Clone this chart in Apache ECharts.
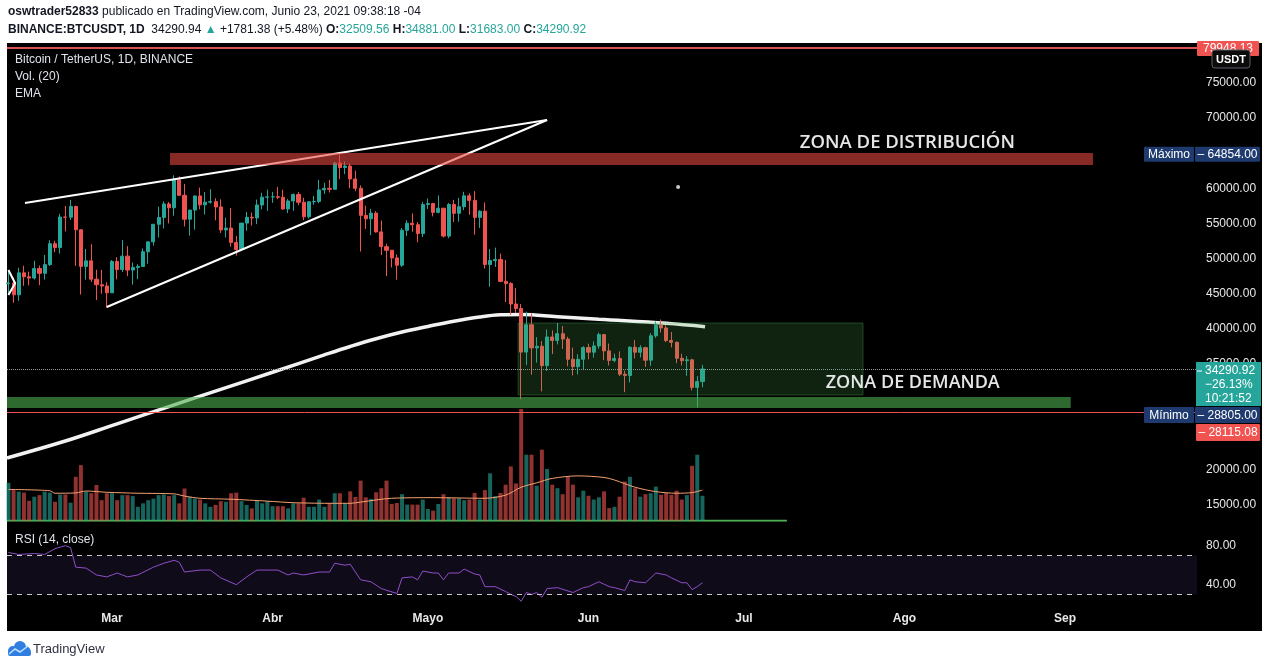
<!DOCTYPE html>
<html><head><meta charset="utf-8">
<script src="https://cdn.jsdelivr.net/npm/echarts@6/dist/echarts.min.js"></script>
<style>html,body{margin:0;padding:0;background:#fff}#c{width:1273px;height:668px}</style>
</head><body><div id="c"></div>
<script>
// ---------- DATA (day numbers = day of year 2021, Jan 1 = 0) ----------
const startDay = 39; // Feb 9
const opens = [46420,46530,44850,47970,47410,47230,48590,47910,49140,52120,51570,55910,55890,57410,54100,48890,49680,47070,46280,46100,
45135,49590,48440,50350,48370,48750,48870,50970,52380,54880,55850,57770,57220,61190,59000,55600,56900,58910,57650,58030,58100,57350,54080,54340,52300,51300,55050,55880,55780,57630,58740,
58780,58800,58730,57060,58200,59120,58020,55950,58080,58130,59770,60000,59860,63580,62960,63160,61330,60000,56150,55660,56470,53800,51700,51190,50100,49060,54030,55030,54820,53560,
57700,57830,56580,57170,53200,57690,56440,57380,58930,58280,55860,56750,49150,49720,49880,46760,46450,43540,42900,36700,40590,37300,37530,34770,38850,38350,39320,38560,35680,34630,35680,
37340,36690,37570,39190,36870,35520,35800,33560,33380,37390,36680,37330,35550,39020,40520,40140,38350,38090,35820,35480,35600,31680,32510];
const highs = [48200,47310,48678,48985,48150,49707,49010,50526,52618,52530,56368,57494,58352,57534,54183,51374,52041,48424,48394,46640,
49790,50200,52640,51773,49448,49200,51450,52402,54895,57387,58150,58058,61844,61682,60633,56939,58982,60100,59469,59880,58589,58430,55830,57200,53237,55073,56640,56559,58400,59368,59800,
59490,60200,59791,58493,59272,59475,58650,58153,58894,61218,60790,61200,63777,64854,63800,63520,62500,60420,57526,57076,56757,55410,52130,51200,50591,54356,55460,56428,55200,58075,
58550,57935,58981,57200,57911,58360,58650,59500,59300,59592,56888,58000,51367,51560,50700,49800,46643,45800,43546,42451,42200,38829,38270,39920,39791,40841,40412,38877,37338,36400,37534,
37894,38225,39476,39289,37917,36480,36790,34069,37534,38400,37680,37448,39380,41064,41330,40528,39559,38202,36457,36137,35750,33298,34881];
const lows = [45000,43727,43994,46125,46202,47015,46222,47015,48948,50901,50710,53863,55477,48967,44892,47003,46674,44106,45000,43000,
45115,47047,48100,47500,46300,47070,48870,49274,51845,53005,54272,55013,56079,58966,54568,53271,54120,57023,56270,57820,55450,53650,53000,51700,50427,51280,53966,54691,54900,57000,56769,
57935,58460,56950,56478,56800,57600,55473,55700,57654,57870,59200,59400,59850,61301,62020,60000,59580,51000,54221,53329,53696,50500,47500,48750,47000,48817,53222,53813,52330,53070,
57050,56000,56435,53000,52900,55200,55241,56900,56235,53400,54370,48600,46000,48805,46650,43825,42001,42250,30000,34850,33488,35200,31111,34030,36420,37800,37134,34684,33379,33520,34153,
35666,35920,37170,35555,34800,35258,33300,31000,32396,35800,35938,34600,34757,38730,39506,38116,37365,35129,34803,33336,31251,28805,31683];
const closes = [46530,44850,47970,47410,47230,48590,47910,49140,52120,51570,55910,55890,57410,54100,48890,49680,47070,46280,46100,45135,
49590,48440,50350,48370,48750,48870,50970,52380,54880,55850,57770,57220,61190,59000,55600,56900,58910,57650,58030,58100,57350,54080,54340,52300,51300,55050,55880,55780,57630,58740,58780,
58800,58730,57060,58200,59120,58020,55950,58080,58130,59770,60000,59860,63580,62960,63160,61330,60000,56150,55660,56470,53800,51700,51190,50100,49060,54030,55030,54820,53560,57700,
57830,56580,57170,53200,57690,56440,57380,58930,58280,55860,56750,49150,49720,49880,46760,46450,43540,42900,36700,40590,37300,37530,34770,38850,38350,39320,38560,35680,34630,35680,37340,
36690,37570,39190,36870,35520,35800,33560,33380,37390,36680,37330,35550,39020,40520,40140,38350,38090,35820,35480,35600,31680,32510,34290.92];
// volume, thousands of BTC
const volumes = [120,97,92,89,63,76,81,92,89,60,83,83,57,139,176,92,87,113,65,87,
87,65,81,81,78,44,55,65,70,81,83,78,81,55,102,76,70,67,55,44,50,62,60,87,89,62,50,39,65,55,62,
46,46,46,39,55,55,73,44,44,67,44,55,87,87,55,93,75,127,74,69,90,103,127,53,56,84,51,51,51,67,
37,32,53,84,74,71,71,65,67,88,67,97,150,78,88,114,172,118,354,209,209,111,225,164,114,103,84,139,114,74,95,
79,67,74,93,40,44,76,124,139,103,76,84,87,108,82,88,82,95,67,81,174,209,79];
const volMaDays = [39,47,48,52,54,58,64,71,73,76,82,89,94,102,105,107,113,121,131,135,138,141,144,149,154,156,160,164,168,171,173];
const volMaValues = [99,95,87,88,94,90,87,85,78,71,68,62,57,55,55,59,71,73,71,81,106,120,134,142,137,129,106,92,87,89,97];
const emaDays = [38.73,50,60,70,80,90,100,105,110,115,120,125,130,134,138,145,153,166,173.5];
const emaValues = [21640,24050,26500,28950,31400,33830,36300,37500,38600,39550,40350,41100,41700,42000,42050,41740,41370,40800,40310];
const rsiDays = [39,41,44,46,48,50,51,52,54,56,58,60,61,62,64,67,69,71,72,73,76,78,80,83,85,87,91,93,94,96,98,99,101,102,104,105,107,109,111,114,115,117,118,119,121,122,123,124,126,127,129,130,131,133,135,136,137,138,139,140,141,142,143,145,148,150,151,153,155,156,158,159,160,162,164,166,167,169,170,171,172,173];
const rsiValues = [73,71,72,71,77,80,78,58,57,50,48,52,50,48,50,58,62,65,63,53,55,55,47,40,48,55,55,50,52,50,52,53,53,62,60,61,45,43,36,31,47,48,45,54,52,52,45,52,52,56,51,50,38,38,33,30,28,23,32,30,32,27,36,37,32,37,38,43,38,37,34,45,43,42,52,50,47,42,42,35,38,42];
const monthDays = [59,90,120,151,181,212,243];
const monthNames = ['Mar','Abr','Mayo','Jun','Jul','Ago','Sep'];
const priceHiddenLabels = [10000,25000,30000,65000,80000];
const rsiLabelValues = [80,40];
// drawings (data coordinates)
const wedgeUpperDays = [42.2,143], wedgeUpperPrices = [57909,69716];
const wedgeLowerDays = [58,143], wedgeLowerPrices = [43115,69716];
const chevronDays = [39,40.3,39], chevronPrices = [48378,46486,44822];
const dotDays = [168.3], dotPrices = [60185];
const distZoneDays = [70.2,248.4], distZonePrices = [63314,65021];
const demandZoneDays = [137.4,204], demandZonePrices = [30597,40840];
const bandDays = [38.73,244.1], bandPrices = [28748,30313];
const volBaseDays = [38.73,189.3];
const topLinePrice = 79948.13, lowLinePrice = 28115.08;
const lastPrice = 34290.92, maxPrice = 64854, minPrice = 28805;
const distLabelDay = 191.8, distLabelPrice = 66450;
const demandLabelDay = 196.8, demandLabelPrice = 32300;

// ---------- CHART ----------
const FONT = "'Liberation Sans', Arial, sans-serif";
const UP = '#26a69a', DOWN = '#ef5350';
const xMin = 38.73, xMax = 268.48;
const days = opens.map((_, i) => startDay + i);
const chart = echarts.init(document.getElementById('c'), null, {width:1273, height:668});

const xAxes = [0,1,2].map(i => ({
  type:'value', gridIndex:i, min:xMin, max:xMax, show: i === 2,
  axisLine:{show:false}, axisTick:{show:false}, splitLine:{show:false},
  axisLabel: i === 2 ? {customValues: monthDays, formatter: v => { const k = monthDays.indexOf(v); return k >= 0 ? monthNames[k] : ''; },
    color:'#e8e8e8', fontWeight:'bold', fontSize:12, margin:8, fontFamily:FONT} : {show:false}
}));

const option = {
  animation:false,
  backgroundColor:'#ffffff',
  textStyle:{fontFamily:FONT},
  grid:[
    {left:7, top:47.7, width:1190, height:492.1},
    {left:7, top:299.7, width:1190, height:221},
    {left:7, top:526.2, width:1190, height:78}
  ],
  xAxis:xAxes,
  yAxis:[
    {type:'value', gridIndex:0, position:'right', min:10000, max:80000, interval:5000,
     axisLine:{show:false}, axisTick:{show:false}, splitLine:{show:false},
     axisLabel:{color:'#e8e8e8', fontSize:12, margin:9, fontFamily:FONT,
       formatter: v => priceHiddenLabels.includes(v) ? '' : v.toFixed(2)}},
    {type:'value', gridIndex:1, min:0, max:700, show:false, splitLine:{show:false}},
    {type:'value', gridIndex:2, position:'right', min:20, max:100, interval:20,
     axisLine:{show:false}, axisTick:{show:false}, splitLine:{show:false},
     axisLabel:{color:'#e8e8e8', fontSize:12, margin:9, fontFamily:FONT,
       formatter: v => rsiLabelValues.includes(v) ? v.toFixed(2) : ''}}
  ],
  series:[
    {type:'line', xAxisIndex:1, yAxisIndex:1, z:1, silent:true, showSymbol:false,
     data: volBaseDays.map(d => [d, 0]), lineStyle:{color:'#4caf50', width:2}},
    {type:'bar', xAxisIndex:1, yAxisIndex:1, z:2, barWidth:4, silent:true,
     data: volumes.map((v,i) => ({value:[days[i], v], itemStyle:{color: closes[i] >= opens[i] ? 'rgba(38,166,154,0.6)' : 'rgba(239,83,80,0.6)'}}))},
    {type:'line', xAxisIndex:1, yAxisIndex:1, z:3, silent:true, showSymbol:false, smooth:0.3,
     data: volMaDays.map((d,i) => [d, volMaValues[i]]), lineStyle:{color:'#f5a070', width:1}},
    {type:'line', xAxisIndex:0, yAxisIndex:0, z:3, silent:true, showSymbol:false, smooth:0.4,
     data: emaDays.map((d,i) => [d, emaValues[i]]), lineStyle:{color:'#f2f2f2', width:3.5}},
    {type:'candlestick', xAxisIndex:0, yAxisIndex:0, z:4, silent:true, barWidth:3.6,
     encode:{x:0, y:[1,2,3,4]},
     data: days.map((d,i) => [d, opens[i], closes[i], lows[i], highs[i]]),
     itemStyle:{color:UP, color0:DOWN, borderColor:UP, borderColor0:DOWN, borderWidth:1},
     markLine:{silent:true, symbol:['none','none'], z:6, label:{show:false},
       data:[
         {yAxis:lastPrice, lineStyle:{color:'#9598a1', type:'dotted', width:1}},
         {yAxis:topLinePrice, lineStyle:{color:'#d9534f', type:'solid', width:2}},
         {yAxis:lowLinePrice, lineStyle:{color:'#f05350', type:'solid', width:1}}
       ]}},
    {type:'line', xAxisIndex:0, yAxisIndex:0, z:7, silent:true, showSymbol:false,
     data: wedgeUpperDays.map((d,i) => [d, wedgeUpperPrices[i]]), lineStyle:{color:'#ffffff', width:2}},
    {type:'line', xAxisIndex:0, yAxisIndex:0, z:7, silent:true, showSymbol:false,
     data: wedgeLowerDays.map((d,i) => [d, wedgeLowerPrices[i]]), lineStyle:{color:'#ffffff', width:2}},
    {type:'line', xAxisIndex:0, yAxisIndex:0, z:7, silent:true, showSymbol:false,
     data: chevronDays.map((d,i) => [d, chevronPrices[i]]), lineStyle:{color:'#ffffff', width:2}},
    {type:'scatter', xAxisIndex:0, yAxisIndex:0, z:7, silent:true, symbolSize:4,
     data: dotDays.map((d,i) => [d, dotPrices[i]]), itemStyle:{color:'#ffffff'}},
    {type:'scatter', xAxisIndex:0, yAxisIndex:0, z:10, silent:true, data:[],
     markArea:{silent:true, z:10,
       data:[
         [{coord:[distZoneDays[0], distZonePrices[0]], itemStyle:{color:'rgba(232,70,63,0.58)'}}, {coord:[distZoneDays[1], distZonePrices[1]]}],
         [{coord:[demandZoneDays[0], demandZonePrices[0]], itemStyle:{color:'rgba(76,175,80,0.2)', borderColor:'rgba(76,175,80,0.35)', borderWidth:1}}, {coord:[demandZoneDays[1], demandZonePrices[1]]}],
         [{coord:[bandDays[0], bandPrices[0]], itemStyle:{color:'rgba(76,175,80,0.6)'}}, {coord:[bandDays[1], bandPrices[1]]}]
       ]}},
    {type:'line', xAxisIndex:2, yAxisIndex:2, z:4, silent:true, showSymbol:false,
     data: rsiDays.map((d,i) => [d, rsiValues[i]]), lineStyle:{color:'#8e4fc9', width:1},
     markArea:{silent:true, z:1, data:[[{yAxis:30, itemStyle:{color:'rgba(126,87,194,0.13)'}}, {yAxis:70}]]},
     markLine:{silent:true, symbol:['none','none'], z:5, label:{show:false},
       lineStyle:{color:'#c8c8c8', type:[5,5], width:1},
       data:[{yAxis:70},{yAxis:30}]}}
  ]
};
chart.setOption(option);

// ---------- overlay texts / axis badges ----------
const py = p => chart.convertToPixel({gridIndex:0}, [xMin, p])[1];
const pt = (d, p) => chart.convertToPixel({gridIndex:0}, [d, p]);
const g = [];
g.push({type:'rect', shape:{x:7, y:43, width:1255, height:588}, style:{fill:'#000'}, z:-10, silent:true});
g.push({type:'text', x:8, y:12, silent:true, style:{text:'{b|oswtrader52833} publicado en TradingView.com, Junio 23, 2021 09:38:18 -04',
  fill:'#131722', font:'12px '+FONT, verticalAlign:'middle', rich:{b:{fontWeight:'bold', fill:'#131722', fontSize:12, fontFamily:FONT}}}});
g.push({type:'text', x:8, y:30, silent:true, style:{text:'{b|BINANCE:BTCUSDT, 1D}  34290.94 {t|▲} +1781.38 (+5.48%) {b|O:}{t|32509.56} {b|H:}{t|34881.00} {b|L:}{t|31683.00} {b|C:}{t|34290.92}',
  fill:'#131722', font:'12px '+FONT, verticalAlign:'middle', rich:{b:{fontWeight:'bold', fill:'#131722', fontSize:12, fontFamily:FONT}, t:{fill:'#26a69a', fontSize:12, fontFamily:FONT}}}});
[['Bitcoin / TetherUS, 1D, BINANCE',60],['Vol. (20)',77],['EMA',94],['RSI (14, close)',540]].forEach(([t,y]) =>
  g.push({type:'text', x:15, y:y, z:20, silent:true, style:{text:t, fill:'#e0e3eb', font:'12px '+FONT, verticalAlign:'middle'}}));

const dl = pt(distLabelDay, distLabelPrice), ml = pt(demandLabelDay, demandLabelPrice);
g.push({type:'text', x:dl[0], y:dl[1], z:20, silent:true, style:{text:'ZONA DE DISTRIBUCIÓN', fill:'#e6e6e6', font:"600 18.5px 'Open Sans', sans-serif", verticalAlign:'middle'}});
g.push({type:'text', x:ml[0], y:ml[1], z:20, silent:true, style:{text:'ZONA DE DEMANDA', fill:'#e6e6e6', font:"600 18px 'Open Sans', sans-serif", verticalAlign:'middle'}});

function box(x, y, w, h, fill, text, tfill) {
  g.push({type:'rect', z:100, silent:true, shape:{x:x, y:y, width:w, height:h, r:1}, style:{fill:fill}});
  g.push({type:'text', z:101, silent:true, x:x + w/2, y:y + h/2 + 0.5, style:{text:text, fill:tfill, font:'12px '+FONT, align:'center', verticalAlign:'middle'}});
}
const AX = 1197, AW = 64, NAVY = '#1e3a6e';
box(AX, py(topLinePrice) - 7, 62, 15, '#f05350', '79948.13', '#fff');
g.push({type:'rect', z:102, silent:true, shape:{x:1212, y:50, width:38, height:18, r:3}, style:{fill:'#0b0b0b', stroke:'#5d606b', lineWidth:1}});
g.push({type:'text', z:103, silent:true, x:1231, y:59.5, style:{text:'USDT', fill:'#fff', font:'bold 11px '+FONT, align:'center', verticalAlign:'middle'}});
const yMax = py(maxPrice);
box(1144, yMax - 7.5, 50, 15, NAVY, 'Máximo', '#fff');
box(AX - 2, yMax - 7.5, AW + 1, 15, NAVY, '– 64854.00', '#fff');
const yLast = py(lastPrice);
const tealTop = yLast - 7, tealH = 44;
g.push({type:'rect', z:100, silent:true, shape:{x:AX - 1, y:tealTop, width:AW + 1, height:tealH}, style:{fill:'#26a69a'}});
g.push({type:'text', z:101, silent:true, x:AX + 8, y:tealTop + 2, style:{text:'34290.92\n−26.13%\n10:21:52', fill:'#fff', font:'12px '+FONT, lineHeight:14, verticalAlign:'top'}});
g.push({type:'line', z:101, silent:true, shape:{x1:AX, y1:tealTop + 9, x2:AX + 5, y2:tealTop + 9}, style:{stroke:'#fff', lineWidth:1}});
const minTop = Math.max(py(minPrice) - 8, tealTop + tealH + 1);
box(1144, minTop, 50, 16, NAVY, 'Mínimo', '#fff');
box(AX - 2, minTop, AW + 1, 16, NAVY, '– 28805.00', '#fff');
const lowTop = Math.max(py(lowLinePrice) - 8, minTop + 17);
box(AX - 1, lowTop, AW, 17, '#f05350', '– 28115.08', '#fff');

g.push({type:'circle', z:5, silent:true, shape:{cx:13, cy:651, r:5}, style:{fill:'#2f7ee0'}});
g.push({type:'circle', z:5, silent:true, shape:{cx:20, cy:647, r:6}, style:{fill:'#2f7ee0'}});
g.push({type:'circle', z:5, silent:true, shape:{cx:26, cy:651, r:4.5}, style:{fill:'#2f7ee0'}});
g.push({type:'rect', z:5, silent:true, shape:{x:8, y:650, width:23, height:6, r:2}, style:{fill:'#2f7ee0'}});
g.push({type:'polyline', z:6, silent:true, shape:{points:[[9,654],[15,649],[20,652],[28,646]]}, style:{stroke:'#bfe0ff', lineWidth:1.5, fill:null}});
g.push({type:'text', z:5, silent:true, x:33, y:649, style:{text:'TradingView', fill:'#2f3241', font:'13px '+FONT, verticalAlign:'middle'}});

chart.setOption({graphic: g});
</script>
</body></html>
